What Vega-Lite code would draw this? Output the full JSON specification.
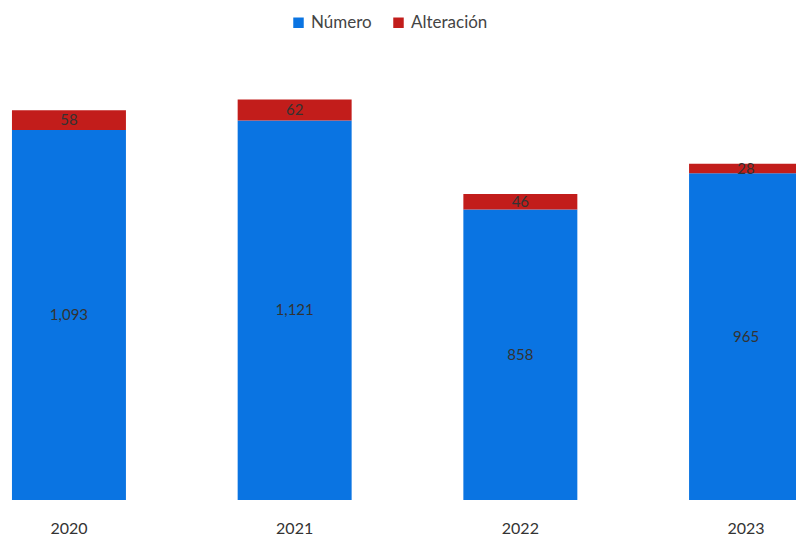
{
  "$schema": "https://vega.github.io/schema/vega-lite/v6.json",
  "width": 796,
  "height": 500,
  "autosize": {"type": "none"},
  "padding": {"left": 0, "top": 0, "right": 0, "bottom": 41},
  "background": "white",
  "config": {"view": {"stroke": null}, "font": "Lato"},
  "data": {
    "values": [
      {"year": "2020", "serie": "Número", "ord": 1, "value": 1093},
      {"year": "2020", "serie": "Alteración", "ord": 2, "value": 58},
      {"year": "2021", "serie": "Número", "ord": 1, "value": 1121},
      {"year": "2021", "serie": "Alteración", "ord": 2, "value": 62},
      {"year": "2022", "serie": "Número", "ord": 1, "value": 858},
      {"year": "2022", "serie": "Alteración", "ord": 2, "value": 46},
      {"year": "2023", "serie": "Número", "ord": 1, "value": 965},
      {"year": "2023", "serie": "Alteración", "ord": 2, "value": 28}
    ]
  },
  "transform": [
    {"stack": "value", "groupby": ["year"], "sort": [{"field": "ord", "order": "ascending"}], "as": ["v0", "v1"]},
    {"calculate": "(datum.v0 + datum.v1) / 2", "as": "vmid"}
  ],
  "encoding": {
    "x": {
      "field": "year", "type": "nominal",
      "scale": {"range": [0, 815], "paddingInner": 0.495, "paddingOuter": 0.053},
      "axis": {"title": null, "domain": false, "ticks": false, "labelAngle": 0, "labelFontSize": 16, "labelColor": "#333", "labelPadding": 20, "labelFont": "Lato"}
    }
  },
  "layer": [
    {
      "mark": {"type": "bar", "clip": true},
      "encoding": {
        "y": {"field": "v1", "type": "quantitative", "scale": {"domain": [0, 1477]}, "axis": null},
        "y2": {"field": "v0"},
        "color": {
          "field": "serie", "type": "nominal",
          "scale": {"domain": ["Número", "Alteración"], "range": ["#0a74e2", "#c21d1b"]},
          "legend": {"title": null, "orient": "none", "legendX": 290, "legendY": 14, "direction": "horizontal", "symbolType": "square", "symbolSize": 110, "labelFontSize": 17, "labelColor": "#444", "columnPadding": 18, "symbolOffset": 0, "labelOffset": 4}
        }
      }
    },
    {
      "mark": {"type": "text", "fontSize": 15, "color": "#333", "baseline": "middle", "clip": true},
      "encoding": {
        "y": {"field": "vmid", "type": "quantitative", "scale": {"domain": [0, 1477]}},
        "text": {"field": "value", "type": "quantitative", "format": ","}
      }
    }
  ]
}
